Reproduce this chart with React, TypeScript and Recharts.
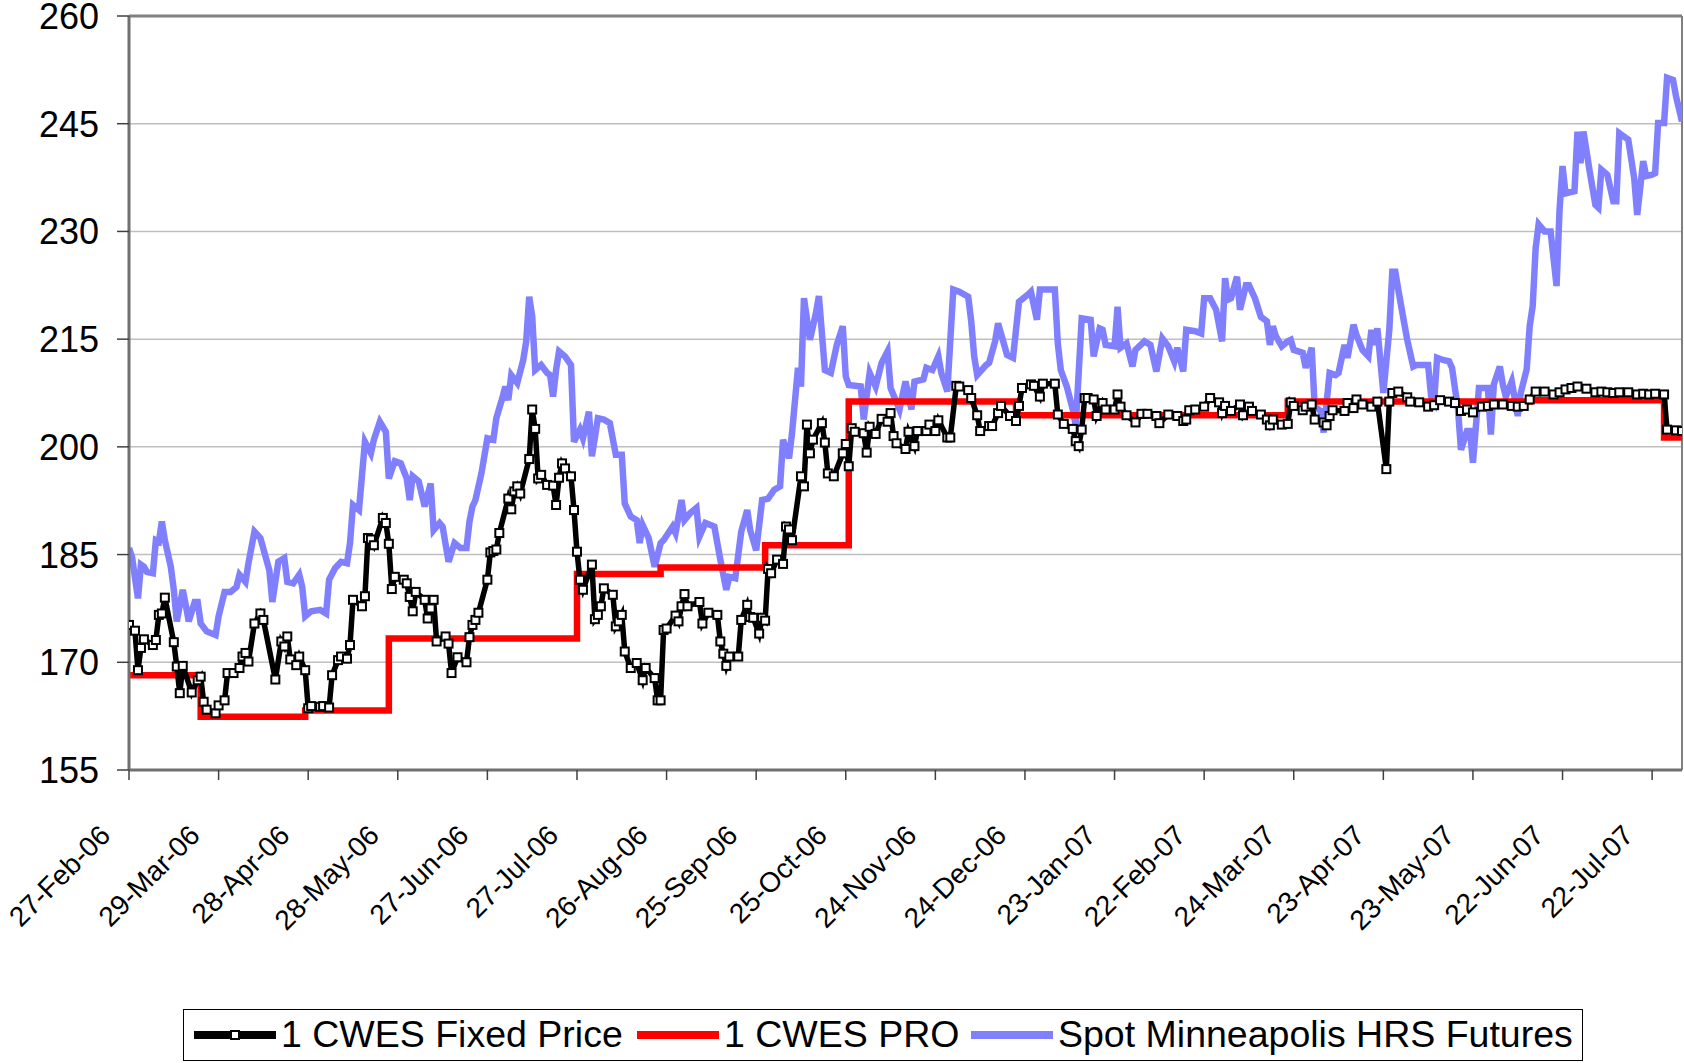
import React from 'react'
import { LineChart, Line, XAxis, YAxis, CartesianGrid, ReferenceLine } from 'recharts'

// x values are day offsets from 27-Feb-06
const tickLabels = [
  '27-Feb-06', '29-Mar-06', '28-Apr-06', '28-May-06', '27-Jun-06', '27-Jul-06',
  '26-Aug-06', '25-Sep-06', '25-Oct-06', '24-Nov-06', '24-Dec-06', '23-Jan-07',
  '22-Feb-07', '24-Mar-07', '23-Apr-07', '23-May-07', '22-Jun-07', '22-Jul-07',
]
const tickDays = tickLabels.map((_, i) => i * 30)
const yTicks = [155, 170, 185, 200, 215, 230, 245, 260]

const fixedDays = [
  0, 2, 3, 4, 5, 8, 9, 10, 11, 12, 15, 16, 17, 18, 21, 23, 24, 25, 26, 29, 30, 32, 33, 35, 37, 38, 39, 40,
  42, 44, 45, 49, 51, 52, 53, 54, 56, 57, 59, 60, 61, 64, 65, 67, 68, 70, 71, 73, 74, 75, 78, 79, 80, 81,
  82, 85, 86, 87, 88, 89, 92, 93, 94, 95, 96, 99, 100, 101, 102, 103, 106, 107, 108, 110, 113, 114, 115,
  116, 117, 120, 121, 122, 123, 124, 127, 128, 129, 130, 131, 134, 135, 136, 137, 138, 140, 142, 143, 144,
  145, 146, 148, 149, 150, 151, 152, 155, 156, 157, 158, 159, 162, 163, 164, 165, 166, 168, 170, 172, 173,
  176, 177, 178, 179, 180, 183, 184, 185, 186, 187, 191, 192, 194, 197, 198, 199, 200, 201, 204, 205, 207,
  208, 209, 211, 212, 213, 214, 215, 217, 219, 220, 221, 222, 225, 226, 227, 228, 229, 232, 233, 234, 236,
  239, 240, 241, 242, 243, 246, 247, 248, 250, 252, 254, 255, 256, 257, 260, 261, 263, 264, 267, 268, 270,
  271, 274, 275, 277, 278, 281, 282, 284, 285, 288, 289, 291, 292, 295, 297, 298, 299, 302, 303, 305, 306,
  310, 311, 313, 316, 317, 318, 319, 320, 321, 323, 324, 326, 327, 330, 331, 332, 334, 337, 339, 341, 344,
  345, 348, 351, 353, 354, 355, 357, 360, 362, 365, 366, 367, 369, 372, 373, 375, 376, 379, 381, 382, 383,
  386, 388, 389, 390, 393, 394, 396, 397, 400, 401, 402, 403, 407, 408, 410, 411, 413, 416, 418, 421, 422,
  423, 425, 428, 429, 432, 435, 437, 439, 442, 444, 446, 448, 450, 453, 455, 457, 460, 463, 465, 467, 469,
  471, 474, 477, 479, 481, 483, 485, 488, 491, 493, 495, 497, 499, 502, 505, 507, 509, 511, 514, 515, 518, 520,
]
const fixedPrices = [
  175.2, 174.4, 168.9, 172.0, 173.2, 172.4, 173.1, 176.6, 176.8, 179.0, 172.8, 169.4, 165.7, 169.5, 165.8,
  167.5, 168.0, 164.5, 163.4, 162.9, 164.0, 164.7, 168.5, 168.5, 169.2, 170.8, 171.3, 170.1, 175.4, 176.8,
  175.9, 167.6, 172.9, 172.2, 173.6, 170.4, 169.6, 170.8, 168.9, 163.6, 163.9, 163.8, 163.9, 163.7, 168.2,
  170.3, 170.8, 170.5, 172.4, 178.7, 177.8, 179.2, 187.3, 187.1, 186.3, 190.1, 189.4, 186.5, 180.2, 181.9,
  181.5, 181.0, 179.1, 177.1, 179.8, 178.7, 176.1, 177.5, 178.7, 172.9, 173.6, 172.6, 168.5, 170.7, 170.0,
  173.5, 175.2, 175.9, 176.9, 181.5, 185.3, 185.5, 185.7, 188.0, 192.8, 191.3, 193.8, 194.5, 193.5, 198.3,
  205.2, 202.5, 195.6, 196.1, 194.7, 194.6, 191.9, 195.7, 197.7, 197.0, 195.9, 191.2, 185.4, 181.5, 180.1,
  183.6, 176.0, 176.6, 177.8, 180.3, 179.4, 175.0, 175.7, 176.6, 171.5, 169.2, 169.9, 167.5, 169.2, 167.8,
  164.7, 164.7, 174.5, 174.7, 176.5, 175.7, 177.8, 179.5, 177.8, 178.4, 175.4, 176.9, 176.6, 172.9, 171.2,
  169.5, 170.8, 170.8, 175.9, 178.0, 176.3, 176.2, 174.0, 176.2, 175.8, 183.0, 182.4, 184.3, 183.7, 188.9,
  188.5, 187.0, 195.9, 194.5, 203.1, 199.1, 201.0, 203.3, 200.6, 196.3, 195.9, 199.1, 200.4, 197.3, 202.6,
  202.1, 201.9, 199.2, 202.8, 201.8, 203.9, 203.5, 204.7, 201.5, 200.5, 199.7, 202.1, 200.1, 202.2, 202.2,
  203.1, 202.2, 203.7, 201.3, 201.3, 208.5, 208.4, 207.9, 206.8, 204.4, 202.2, 202.9, 202.9, 204.7, 205.7,
  204.3, 203.6, 205.7, 208.2, 208.7, 208.5, 207.0, 208.8, 208.8, 204.5, 203.2, 202.5, 200.8, 200.1, 202.4,
  206.8, 206.8, 206.6, 204.3, 206.1, 205.2, 205.2, 207.3, 205.6, 204.4, 203.4, 204.6, 204.6, 204.3, 203.3,
  204.5, 204.3, 203.6, 203.8, 205.1, 205.2, 205.6, 206.8, 206.2, 204.7, 205.7, 205.0, 205.9, 204.4, 205.6,
  205.0, 204.5, 203.8, 203.0, 203.8, 203.1, 203.2, 206.2, 205.7, 205.1, 205.6, 205.9, 203.8, 203.4, 203.0,
  204.3, 205.1, 205.0, 206.1, 205.4, 206.6, 205.9, 205.6, 206.3, 196.9, 206.3, 207.5, 207.7, 206.9, 206.3,
  206.2, 205.6, 205.8, 206.5, 206.3, 206.1, 205.0, 205.2, 204.8, 205.6, 205.7, 205.9, 205.9, 205.7, 205.6,
  205.7, 206.6, 207.7, 207.7, 207.3, 207.6, 208.0, 208.2, 208.4, 208.1, 207.6, 207.7, 207.6, 207.5, 207.6,
  207.6, 207.3, 207.4, 207.3, 207.4, 207.3, 202.4, 202.3, 202.2,
]

const proDays = [0, 24, 59, 87, 150, 178, 213, 241, 297, 388, 469, 514, 520]
const proPrices = [168.2, 162.4, 163.3, 173.3, 182.3, 183.2, 186.3, 206.3, 204.4, 206.3, 206.5, 201.3, 201.3]

const spotDays = [
  0, 1, 3, 4, 5, 6, 8, 9, 10, 11, 12, 14, 15, 16, 18, 19, 20, 22, 23, 24, 26, 29, 30, 32, 34, 36, 37, 39,
  40, 42, 44, 47, 48, 50, 52, 53, 55, 57, 58, 59, 61, 64, 66, 67, 69, 71, 73, 74, 75, 77, 79, 81, 82, 84,
  86, 87, 89, 91, 93, 94, 95, 97, 99, 101, 102, 104, 105, 107, 109, 111, 113, 114, 115, 116, 118, 120, 122,
  123, 125, 126, 127, 128, 130, 132, 133, 134, 135, 136, 138, 140, 141, 142, 143, 144, 146, 148, 149, 151,
  152, 154, 155, 157, 159, 161, 163, 165, 166, 168, 170, 171, 172, 174, 176, 178, 179, 182, 183, 185, 186,
  188, 190, 191, 193, 196, 198, 200, 201, 203, 205, 207, 208, 210, 212, 214, 216, 218, 219, 221, 222, 224,
  225, 226, 228, 230, 231, 233, 235, 237, 239, 240, 241, 245, 246, 248, 250, 252, 254, 255, 258, 260, 262,
  263, 266, 267, 269, 271, 272, 274, 276, 278, 281, 282, 283, 284, 287, 288, 290, 291, 294, 296, 298, 301,
  302, 304, 305, 307, 310, 311, 312, 314, 316, 317, 319, 322, 323, 325, 326, 327, 330, 331, 332, 334, 336,
  337, 340, 342, 344, 346, 348, 350, 351, 353, 354, 357, 359, 360, 362, 364, 366, 367, 368, 369, 371, 372,
  374, 375, 377, 379, 381, 382, 383, 384, 386, 388, 389, 390, 393, 394, 396, 397, 399, 400, 402, 404, 405,
  407, 408, 410, 411, 413, 415, 416, 417, 418, 420, 422, 423, 424, 425, 427, 428, 430, 431, 433, 435, 436,
  437, 438, 440, 442, 443, 445, 446, 448, 449, 450, 451, 452, 455, 456, 457, 459, 460, 461, 463, 465, 466,
  468, 469, 470, 471, 472, 474, 476, 478, 479, 480, 481, 484, 485, 486, 487, 489, 491, 492, 493, 495, 497,
  498, 499, 502, 504, 505, 507, 508, 510, 511, 512, 514, 515, 517, 518, 520,
]
const spotPrices = [
  185.9, 184.7, 178.9, 183.6, 183.3, 182.6, 182.4, 187.0, 186.8, 189.6, 187.0, 183.3, 180.1, 175.7, 180.1,
  178.0, 175.7, 178.4, 178.4, 175.4, 174.3, 173.8, 176.4, 179.8, 179.8, 180.5, 182.2, 181.2, 183.8, 188.2,
  187.3, 182.8, 178.4, 184.0, 184.5, 181.2, 181.0, 182.2, 180.5, 176.4, 177.1, 177.3, 176.8, 181.5, 183.1,
  184.0, 183.8, 186.6, 191.9, 191.2, 200.7, 199.1, 201.0, 203.5, 202.1, 195.6, 198.0, 197.7, 195.6, 192.6,
  195.9, 195.2, 191.7, 194.9, 188.4, 189.4, 188.9, 184.0, 186.6, 185.9, 185.9, 189.6, 191.7, 192.6, 196.3,
  201.2, 201.0, 204.0, 206.8, 208.4, 206.5, 210.0, 208.9, 212.1, 214.7, 220.9, 218.2, 210.7, 211.4, 210.3,
  210.0, 207.0, 210.7, 213.3, 212.6, 211.4, 200.7, 202.4, 201.2, 204.9, 198.7, 204.0, 203.8, 203.3, 198.9,
  198.9, 192.1, 190.3, 189.8, 186.6, 189.1, 187.3, 183.3, 186.6, 187.0, 188.9, 188.0, 192.6, 189.8, 190.8,
  191.5, 187.5, 189.4, 188.9, 184.3, 180.1, 181.9, 181.7, 188.2, 191.2, 188.4, 185.6, 192.6, 192.8, 194.0,
  194.5, 201.0, 198.4, 201.9, 211.0, 208.4, 220.7, 214.9, 218.6, 221.0, 210.7, 210.3, 214.2, 216.8, 209.8,
  208.6, 208.4, 203.8, 210.3, 208.4, 211.7, 213.3, 208.2, 205.2, 209.1, 205.2, 209.1, 209.4, 211.0, 210.7,
  212.6, 210.3, 207.7, 221.9, 221.6, 220.9, 217.5, 212.6, 210.0, 211.4, 211.7, 214.7, 217.2, 212.8, 212.4,
  220.2, 221.2, 221.6, 217.7, 221.9, 221.9, 221.9, 214.4, 210.7, 208.4, 205.2, 202.9, 217.9, 217.7, 212.6,
  216.5, 216.3, 214.2, 214.0, 219.5, 213.8, 214.4, 211.2, 213.5, 214.7, 214.2, 210.5, 215.1, 214.0, 211.9,
  213.8, 210.5, 216.3, 216.1, 215.8, 220.7, 220.7, 219.1, 214.7, 223.5, 220.5, 220.7, 223.7, 219.1, 222.5,
  222.5, 220.7, 218.1, 217.5, 214.2, 216.8, 215.4, 214.0, 214.7, 214.9, 213.5, 213.1, 211.0, 213.8, 205.6,
  205.0, 202.0, 210.3, 210.0, 210.3, 214.2, 212.4, 217.0, 215.6, 213.5, 212.6, 216.3, 214.2, 216.5, 207.5,
  216.3, 224.4, 224.4, 221.9, 217.2, 214.9, 211.2, 211.4, 211.4, 211.4, 207.0, 206.3, 212.4, 212.1, 211.9,
  211.0, 205.2, 199.6, 202.2, 202.2, 197.8, 202.9, 208.2, 208.2, 201.7, 208.7, 211.2, 208.7, 207.0, 209.1,
  204.3, 207.5, 210.8, 216.8, 219.6, 227.7, 231.0, 230.0, 230.0, 222.4, 233.0, 239.1, 235.3, 235.6, 243.9,
  239.5, 243.9, 238.6, 233.7, 233.3, 238.6, 237.9, 234.2, 234.2, 243.7, 242.8, 237.4, 232.3, 239.8, 237.7,
  237.9, 238.1, 245.1, 245.1, 251.4, 251.1, 248.8, 245.3,
]

const fixedData = fixedDays.map((d, i) => ({ day: d, value: fixedPrices[i] }))
const proData = proDays.map((d, i) => ({ day: d, value: proPrices[i] }))
const spotData = spotDays.map((d, i) => ({ day: d, value: spotPrices[i] }))

const FONT = '"Liberation Sans", Arial, sans-serif'
const BLUE = '#8080FF'
const RED = '#FF0000'

const SquareDot = (props: any) => {
  const { cx, cy, index } = props
  if (cx == null || cy == null) return <g key={`d-${index}`} />
  return (
    <rect key={`d-${index}`} x={cx - 4} y={cy - 4} width={8} height={8}
      fill="#FFFFFF" stroke="#000000" strokeWidth={2} />
  )
}

const ValueTick = ({ x, y, payload }: any) => (
  <text x={x} y={y + 13} textAnchor="end" fontSize={36} fontFamily={FONT} fill="#000">
    {payload.value}
  </text>
)

const DateTick = ({ x, y, payload }: any) => {
  const label = tickLabels[Math.round(payload.value / 30)] ?? ''
  const ax = x - 17
  const ay = y + 57
  return (
    <text x={ax} y={ay} transform={`rotate(-45 ${ax} ${ay})`} textAnchor="end"
      fontSize={28} fontFamily={FONT} fill="#000">
      {label}
    </text>
  )
}

const legendItems = [
  { label: '1 CWES Fixed Price', color: '#000000', left: 10, marker: true },
  { label: '1 CWES PRO', color: RED, left: 453, marker: false },
  { label: 'Spot Minneapolis HRS Futures', color: BLUE, left: 787, marker: false },
]

export default function App() {
  return (
    <div style={{ position: 'absolute', left: 0, top: 0, width: 1684, height: 1063, background: '#fff', overflow: 'hidden' }}>
      <LineChart width={1684} height={1063} margin={{ top: 16, right: 2, bottom: 0, left: 0 }}>
        <CartesianGrid vertical={false} stroke="#BFBFBF" strokeWidth={1.5} />
        <XAxis
          type="number"
          dataKey="day"
          domain={[0, 520]}
          ticks={tickDays}
          interval={0}
          height={293}
          tick={<DateTick />}
          tickSize={10}
          tickMargin={0}
          stroke="#707070"
          strokeWidth={3}
          tickLine={{ stroke: '#404040', strokeWidth: 1.5 }}
          allowDataOverflow
        />
        <YAxis
          type="number"
          domain={[155, 260]}
          ticks={yTicks}
          interval={0}
          width={129}
          tickSize={12}
          tickMargin={18}
          stroke="#707070"
          strokeWidth={3}
          tickLine={{ stroke: '#404040', strokeWidth: 1.5 }}
          tick={<ValueTick />}
          allowDataOverflow
        />
        <ReferenceLine y={260} stroke="#808080" strokeWidth={3} />
        <ReferenceLine x={520} stroke="#808080" strokeWidth={2} />
        <Line data={spotData} dataKey="value" type="linear" stroke={BLUE} strokeWidth={6.5}
          dot={false} isAnimationActive={false} />
        <Line data={proData} dataKey="value" type="stepAfter" stroke={RED} strokeWidth={6.5}
          dot={false} isAnimationActive={false} />
        <Line data={fixedData} dataKey="value" type="linear" stroke="#000000" strokeWidth={5.5}
          dot={(p: any) => <SquareDot {...p} />} isAnimationActive={false} />
      </LineChart>
      <div style={{
        position: 'absolute', left: 183, top: 1009, width: 1400, height: 52,
        border: '1.5px solid #000', boxSizing: 'border-box', fontFamily: FONT,
      }}>
        {legendItems.map((it) => (
          <div key={it.label} style={{ position: 'absolute', left: it.left, top: 0, height: 49, display: 'flex', alignItems: 'center' }}>
            <svg width={82} height={20} style={{ marginRight: 5 }}>
              <line x1={0} y1={10} x2={82} y2={10} stroke={it.color} strokeWidth={8} />
              {it.marker && <rect x={37} y={6} width={8} height={8} fill="#fff" stroke="#000" strokeWidth={2} />}
            </svg>
            <span style={{ fontSize: 37.5, color: '#000', whiteSpace: 'nowrap', lineHeight: '49px' }}>{it.label}</span>
          </div>
        ))}
      </div>
    </div>
  )
}
